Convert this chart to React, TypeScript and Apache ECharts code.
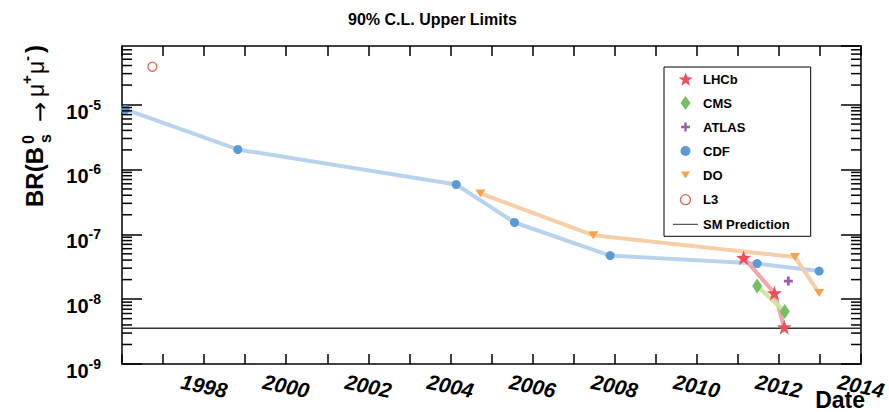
import React, { useEffect, useRef } from 'react';
import * as echarts from 'echarts';

const TITLE = '90% C.L. Upper Limits';
const FONT = 'Liberation Sans, Arial, Helvetica, sans-serif';

// Upper limits (year, BR)
const cdfYear = [1996.08, 1998.82, 2004.14, 2005.56, 2007.89, 2011.47, 2012.98];
const cdfLimit = [8.4e-6, 2.03e-6, 5.86e-7, 1.52e-7, 4.69e-8, 3.53e-8, 2.71e-8];
const d0Year = [2004.73, 2007.48, 2012.39, 2012.98];
const d0Limit = [4.26e-7, 9.66e-8, 4.46e-8, 1.24e-8];
const lhcbYear = [2011.14, 2011.89, 2012.13];
const lhcbLimit = [4.36e-8, 1.24e-8, 3.7e-9];
const cmsYear = [2011.47, 2012.14];
const cmsLimit = [1.59e-8, 6.47e-9];
const atlasYear = [2012.23];
const atlasLimit = [1.9e-8];
const l3Year = [1996.74];
const l3Limit = [3.84e-5];
const smPrediction = 3.55e-9;

const yearRange = [1996, 2014];
const yearLabels = [1998, 2000, 2002, 2004, 2006, 2008, 2010, 2012, 2014];
const yRange = [1e-9, 8e-5];
const minorDecades = [1e-9, 1e-8, 1e-7, 1e-6, 1e-5];
const minorMultipliers = [2, 3, 4, 5, 6, 7, 8, 9];

const STAR = 'path://M12,0L14.82,8.12L23.41,8.29L16.57,13.48L19.05,21.71L12,16.8L4.95,21.71L7.43,13.48L0.59,8.29L9.18,8.12Z';
const DIAMOND = 'path://M5,0L10,7L5,14L0,7Z';
const PLUS = 'path://M3,0h2.6v3h3v2.6h-3v3h-2.6v-3h-3v-2.6h3z';
const TRI_DOWN = 'path://M0,0L10,0L5,8Z';

// legend icons drawn inside a 14x14 box so that their sizes match the picture
const L_STAR = 'path://M0,-0.5M22.82,22.2M12,0L14.82,8.12L23.41,8.29L16.57,13.48L19.05,21.71L12,16.8L4.95,21.71L7.43,13.48L0.59,8.29L9.18,8.12Z';
const L_DIAMOND = 'path://M0,0M14,14M7,0L12,7L7,14L2,7Z';
const L_PLUS = 'path://M0,0M14,14M5.8,2.6h2.4v3.2h3.2v2.4h-3.2v3.2h-2.4v-3.2h-3.2v-2.4h3.2z';
const L_CIRCLE = 'path://M0,0M14,14M2,7a5,5 0 1,0 10,0a5,5 0 1,0 -10,0z';
const L_TRI = 'path://M0,0M14,14M2.5,3.5L11.5,3.5L7,10.5Z';
const SM_ICON = 'path://M0,0h25v1h-25z';

const C = {
  cdf: '#5b9bd5', cdfLine: '#b9d3ed',
  d0: '#f9a24b', d0Line: '#f6cfa8',
  lhcb: '#ef4f5b', lhcbLine: '#f2a6a8',
  cms: '#74c063', cmsLine: '#d2e49f',
  atlas: '#9c5ba6',
  l3: '#e2664f',
  sm: '#333333',
};

const pts = (xs: number[], ys: number[]) => xs.map((x, i) => [x, ys[i]]);

export default function App() {
  const ref = useRef<HTMLDivElement>(null);
  useEffect(() => {
    if (!ref.current) return;
    const chart = echarts.init(ref.current, undefined, { renderer: 'svg' });
    const minorValues: number[][] = [];
    minorDecades.forEach((d) =>
      minorMultipliers.forEach((m) => {
        const v = d * m;
        if (v < yRange[1]) minorValues.push([yearRange[0], v]);
      })
    );

    const trend = (name: string, xs: number[], ys: number[], color: string) => ({
      type: 'line', name: name + ' trend', data: pts(xs, ys), symbol: 'none', showSymbol: false,
      lineStyle: { color, width: 4 }, z: 2, silent: true,
    });
    const marks = (name: string, xs: number[], ys: number[], symbol: string, size: any, color: string, extra: any = {}) => ({
      type: 'scatter', name, data: pts(xs, ys), symbol, symbolSize: size,
      itemStyle: { color, opacity: 1, ...extra }, z: 3, silent: true,
    });

    const axisLine = { show: true, lineStyle: { color: '#000', width: 1.5 } };

    const option: any = {
      animation: false,
      title: {
        text: TITLE, left: 343, top: 6,
        textStyle: { fontFamily: FONT, fontWeight: 'bold', fontSize: 16, color: '#000' },
      },
      grid: { left: 122, right: 24, top: 46, bottom: 48 },
      legend: {
        orient: 'vertical', left: 664, top: 67,
        itemWidth: 25, itemHeight: 14, itemGap: 10,
        padding: [5, 21, 5, 9],
        borderColor: '#000', borderWidth: 1, backgroundColor: '#fff',
        selectedMode: false,
        textStyle: { fontFamily: FONT, fontWeight: 'bold', fontSize: 13, color: '#000', lineHeight: 14 },
        data: [
          { name: 'LHCb', icon: L_STAR, itemStyle: { color: C.lhcb, borderWidth: 0 } },
          { name: 'CMS', icon: L_DIAMOND, itemStyle: { color: C.cms, borderWidth: 0 } },
          { name: 'ATLAS', icon: L_PLUS, itemStyle: { color: C.atlas, borderWidth: 0 } },
          { name: 'CDF', icon: L_CIRCLE, itemStyle: { color: C.cdf, borderWidth: 0 } },
          { name: 'DO', icon: L_TRI, itemStyle: { color: C.d0, borderWidth: 0 } },
          { name: 'L3', icon: L_CIRCLE, itemStyle: { color: '#fff', borderColor: C.l3, borderWidth: 1.3 } },
          { name: 'SM Prediction', icon: SM_ICON, itemStyle: { color: C.sm, borderWidth: 0 } },
        ],
      },
      xAxis: [
        {
          type: 'value', min: yearRange[0], max: yearRange[1], interval: 1, position: 'bottom',
          axisLine, splitLine: { show: false },
          axisTick: { show: true, inside: true, length: 10, lineStyle: { color: '#000', width: 1.5 } },
          axisLabel: {
            formatter: (v: number) => (yearLabels.indexOf(v) >= 0 ? String(v) : ''),
            rotate: -12, align: 'center', verticalAlign: 'middle', margin: 22,
            fontFamily: FONT, fontStyle: 'italic', fontWeight: 'bold', fontSize: 21, color: '#000',
          },
        },
        {
          type: 'value', min: yearRange[0], max: yearRange[1], interval: 1, position: 'top',
          axisLine, splitLine: { show: false },
          axisTick: { show: true, inside: true, length: 10, lineStyle: { color: '#000', width: 1.5 } },
          axisLabel: { show: false },
        },
      ],
      yAxis: [
        {
          type: 'log', logBase: 10, min: yRange[0], max: yRange[1], position: 'left',
          axisLine, splitLine: { show: false },
          axisTick: { show: true, inside: true, length: 20, lineStyle: { color: '#000', width: 1.5 } },
          axisLabel: {
            margin: 21, padding: [10, 0, 0, 0], showMaxLabel: false,
            formatter: (v: number) => {
              const e = Math.log10(v);
              if (Math.abs(e - Math.round(e)) > 1e-6) return '';
              return `{b|10}{s|${Math.round(e)}}`;
            },
            rich: {
              b: { fontFamily: FONT, fontWeight: 'bold', fontSize: 20, color: '#000', lineHeight: 24, verticalAlign: 'bottom' },
              s: { fontFamily: FONT, fontWeight: 'bold', fontSize: 14, color: '#000', lineHeight: 10, verticalAlign: 'top' },
            },
          },
        },
        {
          type: 'log', logBase: 10, min: yRange[0], max: yRange[1], position: 'right',
          axisLine, splitLine: { show: false },
          axisTick: { show: true, inside: true, length: 20, lineStyle: { color: '#000', width: 1.5 } },
          axisLabel: { show: false },
        },
      ],
      graphic: [
        {
          type: 'group', x: 43, y: 207, rotation: Math.PI / 2,
          children: [
            { type: 'text', x: 0, y: -9, style: { text: 'BR(B', fontFamily: FONT, fontWeight: 'bold', fontSize: 24, fill: '#000', verticalAlign: 'middle' } },
            { type: 'text', x: 63, y: -15, style: { text: '0', fontFamily: FONT, fontWeight: 'bold', fontSize: 16, fill: '#000', verticalAlign: 'middle' } },
            { type: 'text', x: 64, y: 2, style: { text: 's', fontFamily: FONT, fontWeight: 'bold', fontSize: 16, fill: '#000', verticalAlign: 'middle' } },
            { type: 'text', x: 85, y: -3, style: { text: '\u2192', fontFamily: 'DejaVu Sans', fontSize: 24, fill: '#000', verticalAlign: 'middle' } },
            { type: 'text', x: 110, y: -7, style: { text: '\u03bc', fontFamily: FONT, fontSize: 23, fill: '#000', verticalAlign: 'middle' } },
            { type: 'text', x: 123, y: -17, style: { text: '+', fontFamily: FONT, fontWeight: 'bold', fontSize: 15, fill: '#000', verticalAlign: 'middle' } },
            { type: 'text', x: 133, y: -7, style: { text: '\u03bc', fontFamily: FONT, fontSize: 23, fill: '#000', verticalAlign: 'middle' } },
            { type: 'text', x: 146, y: -17, style: { text: '-', fontFamily: FONT, fontWeight: 'bold', fontSize: 15, fill: '#000', verticalAlign: 'middle' } },
            { type: 'text', x: 154, y: -9, style: { text: ')', fontFamily: FONT, fontWeight: 'bold', fontSize: 24, fill: '#000', verticalAlign: 'middle' } },
          ],
        },
        {
          type: 'text', x: 865, y: 400,
          style: { text: 'Date', fontFamily: FONT, fontWeight: 'bold', fontSize: 23, fill: '#000', align: 'right', verticalAlign: 'middle' },
        },
      ],
      series: [
        trend('CDF', cdfYear, cdfLimit, C.cdfLine),
        trend('DO', d0Year, d0Limit, C.d0Line),
        trend('LHCb', lhcbYear, lhcbLimit, C.lhcbLine),
        trend('CMS', cmsYear, cmsLimit, C.cmsLine),
        {
          type: 'line', name: 'SM Prediction',
          data: [[yearRange[0], smPrediction], [yearRange[1], smPrediction]],
          symbol: 'none', lineStyle: { color: C.sm, width: 1.5 }, z: 2, silent: true,
        },
        marks('CDF', cdfYear, cdfLimit, 'circle', 9, C.cdf),
        marks('DO', d0Year, d0Limit, TRI_DOWN, [10, 8], C.d0),
        marks('LHCb', lhcbYear, lhcbLimit, STAR, 15, C.lhcb),
        marks('CMS', cmsYear, cmsLimit, DIAMOND, [10, 15], C.cms),
        marks('ATLAS', atlasYear, atlasLimit, PLUS, 9, C.atlas),
        marks('L3', l3Year, l3Limit, 'circle', 9, '#fff', { borderColor: C.l3, borderWidth: 1.3 }),
        {
          type: 'custom', name: 'minor ticks', data: minorValues, encode: { x: 0, y: 1 }, z: 4, silent: true,
          renderItem: (params: any, api: any) => {
            const v = api.value(1);
            const l = api.coord([yearRange[0], v]);
            const r = api.coord([yearRange[1], v]);
            return {
              type: 'group',
              children: [
                { type: 'line', shape: { x1: l[0], y1: l[1], x2: l[0] + 10, y2: l[1] }, style: { stroke: '#000', lineWidth: 1.5 } },
                { type: 'line', shape: { x1: r[0], y1: r[1], x2: r[0] - 10, y2: r[1] }, style: { stroke: '#000', lineWidth: 1.5 } },
              ],
            };
          },
        },
      ],
    };
    chart.setOption(option);
    return () => chart.dispose();
  }, []);
  return <div ref={ref} style={{ position: 'fixed', left: 0, top: 0, width: 889, height: 412, background: '#fff' }} />;
}
